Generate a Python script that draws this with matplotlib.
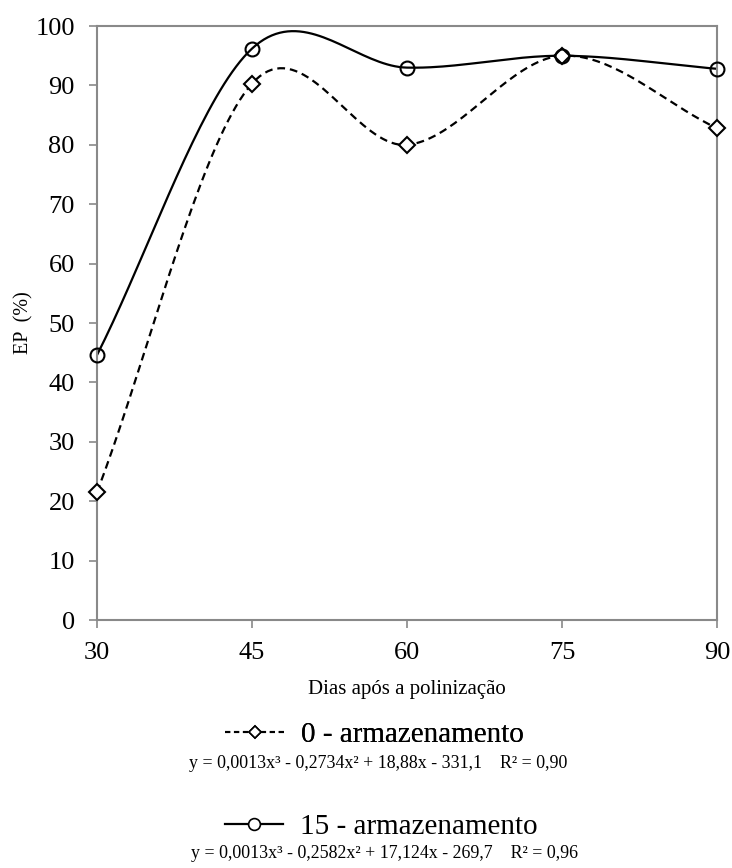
import numpy as np
import matplotlib
matplotlib.use('Agg')
import matplotlib.pyplot as plt

plt.rcParams['font.family'] = ['Liberation Serif', 'DejaVu Serif']

# dados
dias = [30, 45, 60, 75, 90]
ep_0 = [21.5, 90.3, 80.0, 95.0, 82.8]
ep_15 = [44.6, 96.2, 93.0, 95.0, 92.8]
rotulo_0 = '0 - armazenamento'
rotulo_15 = '15 - armazenamento'
eq_0 = 'y = 0,0013x³ - 0,2734x² + 18,88x - 331,1    R² = 0,90'
eq_15 = 'y = 0,0013x³ - 0,2582x² + 17,124x - 269,7    R² = 0,96'


# linha suavizada tipo Excel (Catmull-Rom)
def suavizar(x, y, n=40):
    p = np.column_stack([x, y]).astype(float)
    p = np.vstack([2 * p[0] - p[1], p, 2 * p[-1] - p[-2]])
    out = []
    t = np.linspace(0, 1, n)[:, None]
    for i in range(1, len(p) - 2):
        p0, p1, p2, p3 = p[i - 1], p[i], p[i + 1], p[i + 2]
        m1 = (p2 - p0) / 2
        m2 = (p3 - p1) / 2
        h00 = 2 * t**3 - 3 * t**2 + 1
        h10 = t**3 - 2 * t**2 + t
        h01 = -2 * t**3 + 3 * t**2
        h11 = t**3 - t**2
        out.append(h00 * p1 + h10 * m1 + h01 * p2 + h11 * m2)
    out = np.vstack(out)
    return out[:, 0], out[:, 1]


fig = plt.figure(figsize=(7.32, 8.68), dpi=100)
ax = fig.add_axes([0.1325, 0.2857, 0.847, 0.6843])

cinza = '#898989'

sx, sy = suavizar(dias, ep_0)
ax.plot(sx, sy, color='black', lw=1.6, dashes=(3.5, 2.2))
ax.plot(dias, ep_0, ls='none', marker='D', ms=8, mfc='white', mec='black', mew=1.5,
        clip_on=False, zorder=3)
sx, sy = suavizar(dias, ep_15)
ax.plot(sx, sy, color='black', lw=1.6)
ax.plot(dias, ep_15, ls='none', marker='o', ms=10, mfc='none', mec='black', mew=1.5,
        clip_on=False, zorder=3)

ax.set_xlim(30, 90)
ax.set_ylim(0, 100)
ax.set_xticks(dias)
ax.set_yticks(range(0, 101, 10))
ax.tick_params(axis='both', labelsize=19, colors=cinza, labelcolor='black',
               width=1.2, length=6, direction='out')
ax.tick_params(axis='y', pad=10)
ax.tick_params(axis='x', pad=10)
for s in ax.spines.values():
    s.set_color(cinza)
    s.set_linewidth(1.5)
ax.set_ylabel('EP  (%)', fontsize=14.5, labelpad=1.5)
ax.set_xlabel('Dias após a polinização', fontsize=15, labelpad=11.5)

# legendas
h0 = plt.Line2D([], [], color='black', lw=1.5, dashes=(2.5, 1.8), marker='D', ms=6.5,
                mfc='white', mec='black', mew=1.2)
h15 = plt.Line2D([], [], color='black', lw=1.6, marker='o', ms=8.5, mfc='white',
                 mec='black', mew=1.2)
leg1 = fig.legend(handles=[h0], labels=[rotulo_0], loc='center',
                  bbox_to_anchor=(0.512, 1 - 735 / 868), frameon=False,
                  fontsize=21, handlelength=2.0, handletextpad=0.6)
fig.add_artist(leg1)
fig.legend(handles=[h15], labels=[rotulo_15], loc='center',
           bbox_to_anchor=(0.521, 1 - 827 / 868), frameon=False,
           fontsize=21, handlelength=2.0, handletextpad=0.6)
fig.text(0.516, 1 - 763 / 868, eq_0, ha='center', va='center', fontsize=12.9)
fig.text(0.525, 1 - 853 / 868, eq_15, ha='center', va='center', fontsize=12.9)

fig.savefig('out.png', dpi=100)
